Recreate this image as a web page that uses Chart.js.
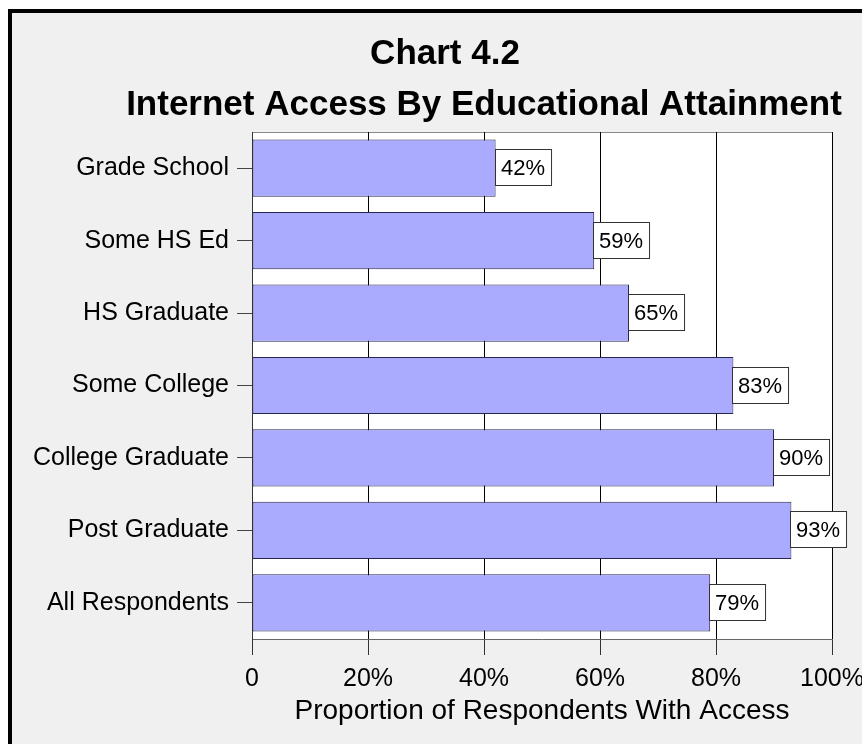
<!DOCTYPE html>
<html>
<head>
<meta charset="utf-8">
<script src="https://cdn.jsdelivr.net/npm/chart.js@4"></script>
<style>
  html, body { margin: 0; padding: 0; background: #fff; }
  #frame {
    position: absolute; left: 8px; top: 9px;
    width: 850px; height: 731px;
    border-left: 4px solid #000; border-top: 4px solid #000;
    background: #f0f0f0; overflow: hidden;
  }
  #myChart { display: block; }
</style>
</head>
<body>
<div id="frame"><canvas id="myChart" width="900" height="731"></canvas></div>
<script>
const categories = ["Grade School", "Some HS Ed", "HS Graduate", "Some College", "College Graduate", "Post Graduate", "All Respondents"];
const accessValues = [42, 59, 65, 83, 90, 93, 79];
const xTickLabels = ["0", "20%", "40%", "60%", "80%", "100%"];
const chartTitle = "Chart 4.2";
const chartSubtitle = "Internet Access By Educational Attainment";

const fontFamily = "'Liberation Sans', Arial, Helvetica, sans-serif";
Chart.defaults.color = "#000";
Chart.defaults.font.family = fontFamily;

// the two title lines are not centred on the same point in the original
const titleLines = {
  id: "titleLines",
  afterDraw(chart) {
    const { ctx } = chart;
    ctx.save();
    ctx.font = "bold 35px " + fontFamily;
    ctx.fillStyle = "#000";
    ctx.textAlign = "center";
    ctx.textBaseline = "middle";
    ctx.fillText(chartTitle, 433, 41);
    ctx.fillText(chartSubtitle, 472, 92);
    ctx.restore();
  },
};

// white plot area plus the grey line on top of it
const plotBackground = {
  id: "plotBackground",
  beforeDraw(chart) {
    const { ctx, chartArea } = chart;
    ctx.save();
    ctx.fillStyle = "#fff";
    ctx.fillRect(chartArea.left, chartArea.top, chartArea.right - chartArea.left, chartArea.bottom - chartArea.top);
    ctx.strokeStyle = "#888";
    ctx.lineWidth = 1;
    ctx.beginPath();
    ctx.moveTo(chartArea.left, chartArea.top + 0.5);
    ctx.lineTo(chartArea.right, chartArea.top + 0.5);
    ctx.stroke();
    ctx.restore();
  },
};

// boxed value labels at the end of each bar
const valueBoxes = {
  id: "valueBoxes",
  afterDatasetsDraw(chart) {
    const { ctx } = chart;
    const meta = chart.getDatasetMeta(0);
    ctx.save();
    ctx.font = "22px " + fontFamily;
    ctx.textBaseline = "middle";
    meta.data.forEach(function (bar, i) {
      const text = accessValues[i] + "%";
      const w = ctx.measureText(text).width + 12;
      const h = 36;
      const x = Math.round(bar.x) - 1;
      const y = Math.round(bar.y - h / 2) - 1;
      ctx.fillStyle = "#fff";
      ctx.fillRect(x, y, w, h);
      ctx.strokeStyle = "#333";
      ctx.lineWidth = 1;
      ctx.strokeRect(x + 0.5, y + 0.5, w, h);
      ctx.fillStyle = "#000";
      ctx.fillText(text, x + 6, bar.y + 1);
    });
    ctx.restore();
  },
};

const ctx = document.getElementById("myChart").getContext("2d");
const myChart = new Chart(ctx, {
  type: "bar",
  data: {
    labels: categories,
    datasets: [
      {
        data: accessValues,
        backgroundColor: "#aaaaff",
        borderColor: "#26264e",
        borderWidth: 1,
        borderSkipped: false,
        barPercentage: 0.79,
        categoryPercentage: 1,
      },
    ],
  },
  options: {
    indexAxis: "y",
    responsive: false,
    animation: false,
    devicePixelRatio: 1,
    layout: { padding: { left: 0, right: 80, top: 119, bottom: 0 } },
    plugins: {
      legend: { display: false },
      tooltip: { enabled: false },
      title: { display: false },
    },
    scales: {
      x: {
        min: 0,
        max: 100,
        ticks: {
          stepSize: 20,
          padding: 9,
          font: { size: 25 },
          callback: function (value) {
            return xTickLabels[value / 20];
          },
        },
        grid: { color: "#000", tickLength: 16, tickColor: "#333" },
        border: { color: "#666" },
        title: {
          display: true,
          text: "Proportion of Respondents With Access",
          font: { size: 28 },
          padding: { top: 0, bottom: 16 },
        },
        afterFit: function (scale) {
          scale.height = 105;
        },
      },
      y: {
        ticks: { padding: 8, font: { size: 25 } },
        grid: { drawOnChartArea: false, offset: false, tickLength: 15, color: "#444" },
        border: { color: "#333" },
        afterFit: function (scale) {
          scale.width = 240;
        },
      },
    },
  },
  plugins: [plotBackground, valueBoxes, titleLines],
});
</script>
</body>
</html>
